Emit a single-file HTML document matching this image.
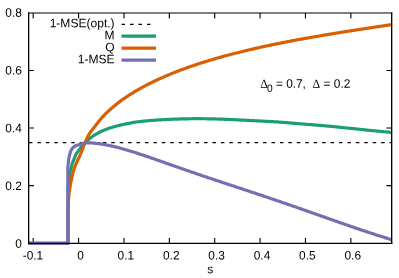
<!DOCTYPE html>
<html><head><meta charset="utf-8"><title>plot</title>
<style>
html,body{margin:0;padding:0;background:#fff;}
body{width:399px;height:278px;position:relative;overflow:hidden;font-family:"Liberation Sans",sans-serif;color:#000;}
</style></head><body>
<svg width="399" height="278" viewBox="0 0 399 278" style="position:absolute;left:0;top:0;will-change:transform"><rect width="399" height="278" fill="#fff"/><path d="M33.19,243.3 V238 M33.19,13.03 v5.4 M78.57,243.3 V238 M78.57,13.03 v5.4 M123.95,243.3 V238 M123.95,13.03 v5.4 M169.33,243.3 V238 M169.33,13.03 v5.4 M214.71,243.3 V238 M214.71,13.03 v5.4 M260.09,243.3 V238 M260.09,13.03 v5.4 M305.47,243.3 V238 M305.47,13.03 v5.4 M350.85,243.3 V238 M350.85,13.03 v5.4 M28.65,185.60 H33.9 M391.68,185.60 H386.3 M28.65,128.05 H33.9 M391.68,128.05 H386.3 M28.65,70.50 H33.9 M391.68,70.50 H386.3" stroke="#000" stroke-width="1.1" fill="none"/><path d="M28.9,142.60 H102.5" stroke="#000" stroke-width="1.1" stroke-dasharray="3.5 4.97" fill="none"/><path d="M102.8,142.60 H391.68" stroke="#000" stroke-width="1.1" stroke-dasharray="3.5 4.935" fill="none"/><path d="M28.65,243.30 L68.10,243.30 L68.10,186.00 L68.15,185.10 L68.21,184.20 L68.28,183.30 L68.36,182.40 L68.45,181.51 L68.57,180.61 L68.70,179.72 L68.85,178.83 L69.00,177.94 L69.16,177.05 L69.32,176.16 L69.48,175.28 L69.64,174.39 L69.80,173.50 L69.97,172.61 L70.15,171.73 L70.33,170.85 L70.53,169.97 L70.74,169.09 L70.95,168.21 L71.18,167.34 L71.41,166.47 L71.66,165.60 L71.91,164.73 L72.18,163.87 L72.46,163.01 L72.76,162.17 L73.09,161.33 L73.45,160.50 L73.81,159.67 L74.16,158.84 L74.49,158.00 L74.80,157.14 L75.13,156.30 L75.47,155.47 L75.87,154.68 L76.30,153.90 L76.77,153.14 L77.27,152.39 L77.79,151.65 L78.33,150.91 L78.89,150.19 L79.45,149.47 L80.01,148.76 L80.56,148.05 L81.12,147.34 L81.68,146.63 L82.25,145.92 L82.83,145.23 L83.41,144.54 L84.01,143.86 L84.62,143.20 L85.25,142.56 L85.88,141.93 L86.54,141.31 L87.20,140.70 L87.88,140.10 L88.57,139.51 L89.27,138.94 L89.98,138.37 L90.69,137.82 L91.40,137.27 L92.13,136.74 L92.87,136.22 L93.61,135.71 L94.37,135.21 L95.13,134.73 L95.90,134.26 L96.67,133.80 L97.45,133.35 L98.25,132.91 L99.04,132.49 L99.85,132.08 L100.65,131.68 L101.47,131.30 L102.29,130.93 L103.12,130.57 L103.96,130.22 L104.79,129.88 L105.63,129.55 L106.47,129.23 L107.32,128.92 L108.17,128.61 L109.02,128.32 L109.87,128.03 L110.73,127.74 L111.59,127.47 L112.45,127.20 L113.31,126.94 L114.18,126.68 L115.04,126.44 L115.91,126.20 L116.79,125.97 L117.66,125.75 L118.54,125.53 L119.41,125.32 L120.29,125.12 L121.17,124.92 L122.05,124.73 L122.93,124.54 L123.82,124.36 L124.70,124.18 L125.59,124.00 L126.47,123.83 L127.36,123.65 L128.24,123.48 L129.13,123.31 L130.01,123.14 L130.90,122.96 L131.78,122.78 L132.67,122.61 L133.55,122.44 L134.44,122.29 L135.33,122.15 L136.22,122.03 L137.12,121.93 L138.02,121.82 L138.91,121.72 L139.81,121.62 L140.71,121.52 L141.60,121.41 L142.50,121.30 L143.39,121.20 L144.29,121.10 L145.19,121.01 L146.08,120.93 L146.98,120.84 L147.88,120.76 L148.78,120.68 L149.68,120.61 L150.58,120.53 L151.47,120.46 L152.37,120.39 L153.27,120.32 L154.17,120.26 L155.07,120.20 L155.97,120.13 L156.87,120.07 L157.77,120.02 L158.67,119.96 L159.57,119.90 L160.47,119.85 L161.37,119.80 L162.27,119.75 L163.17,119.70 L164.07,119.65 L164.97,119.60 L165.87,119.56 L166.77,119.51 L167.68,119.47 L168.58,119.42 L169.48,119.38 L170.38,119.34 L171.28,119.30 L172.18,119.26 L173.08,119.22 L173.98,119.19 L174.88,119.15 L175.78,119.12 L176.69,119.09 L177.59,119.06 L178.49,119.03 L179.39,119.00 L180.29,118.97 L181.19,118.94 L182.09,118.92 L183.00,118.90 L183.90,118.87 L184.80,118.85 L185.70,118.84 L186.60,118.82 L187.50,118.80 L188.40,118.78 L189.31,118.76 L190.21,118.75 L191.11,118.73 L192.01,118.72 L192.91,118.71 L193.81,118.70 L194.72,118.70 L195.62,118.70 L196.52,118.70 L197.42,118.70 L198.32,118.71 L199.23,118.71 L200.13,118.72 L201.03,118.72 L201.93,118.73 L202.83,118.73 L203.73,118.74 L204.64,118.75 L205.54,118.75 L206.44,118.77 L207.34,118.78 L208.24,118.79 L209.14,118.81 L210.05,118.83 L210.95,118.85 L211.85,118.87 L212.75,118.89 L213.65,118.92 L214.55,118.94 L215.46,118.96 L216.36,118.99 L217.26,119.01 L218.16,119.04 L219.06,119.07 L219.96,119.11 L220.86,119.14 L221.76,119.17 L222.67,119.21 L223.57,119.24 L224.47,119.28 L225.37,119.31 L226.27,119.35 L227.17,119.39 L228.07,119.43 L228.97,119.47 L229.87,119.51 L230.77,119.55 L231.68,119.59 L232.58,119.63 L233.48,119.67 L234.38,119.72 L235.28,119.76 L236.18,119.80 L237.08,119.85 L237.98,119.89 L238.88,119.94 L239.78,119.98 L240.68,120.03 L241.58,120.07 L242.48,120.12 L243.38,120.16 L244.29,120.21 L245.19,120.26 L246.09,120.30 L246.99,120.35 L247.89,120.39 L248.79,120.44 L249.69,120.48 L250.59,120.53 L251.49,120.57 L252.39,120.62 L253.29,120.66 L254.19,120.71 L255.09,120.75 L255.99,120.79 L256.90,120.84 L257.80,120.88 L258.70,120.92 L259.60,120.97 L260.50,121.01 L261.40,121.05 L262.30,121.10 L263.20,121.14 L264.10,121.19 L265.00,121.24 L265.90,121.28 L266.80,121.33 L267.70,121.38 L268.60,121.43 L269.50,121.48 L270.40,121.53 L271.31,121.58 L272.21,121.63 L273.11,121.68 L274.01,121.74 L274.90,121.79 L275.80,121.85 L276.70,121.91 L277.60,121.97 L278.50,122.04 L279.40,122.10 L280.30,122.17 L281.20,122.24 L282.10,122.31 L283.00,122.38 L283.90,122.45 L284.80,122.52 L285.70,122.60 L286.59,122.67 L287.49,122.75 L288.39,122.82 L289.29,122.90 L290.19,122.98 L291.09,123.05 L291.99,123.13 L292.88,123.21 L293.78,123.28 L294.68,123.36 L295.58,123.44 L296.48,123.51 L297.38,123.59 L298.28,123.66 L299.18,123.73 L300.07,123.81 L300.97,123.88 L301.87,123.95 L302.77,124.02 L303.67,124.09 L304.57,124.16 L305.47,124.23 L306.37,124.30 L307.27,124.37 L308.17,124.44 L309.07,124.51 L309.96,124.58 L310.86,124.65 L311.76,124.72 L312.66,124.78 L313.56,124.85 L314.46,124.93 L315.36,125.00 L316.26,125.07 L317.16,125.14 L318.06,125.21 L318.95,125.29 L319.85,125.36 L320.75,125.43 L321.65,125.51 L322.55,125.59 L323.45,125.66 L324.35,125.74 L325.24,125.82 L326.14,125.90 L327.04,125.98 L327.94,126.07 L328.84,126.15 L329.73,126.24 L330.63,126.32 L331.53,126.41 L332.43,126.50 L333.32,126.59 L334.22,126.68 L335.12,126.77 L336.02,126.86 L336.91,126.95 L337.81,127.04 L338.71,127.13 L339.60,127.22 L340.50,127.32 L341.40,127.41 L342.29,127.50 L343.19,127.60 L344.09,127.69 L344.99,127.78 L345.88,127.88 L346.78,127.97 L347.68,128.06 L348.57,128.15 L349.47,128.25 L350.37,128.34 L351.27,128.43 L352.16,128.52 L353.06,128.62 L353.96,128.71 L354.85,128.80 L355.75,128.90 L356.65,129.00 L357.54,129.09 L358.44,129.19 L359.34,129.28 L360.23,129.38 L361.13,129.47 L362.03,129.57 L362.92,129.66 L363.82,129.76 L364.72,129.85 L365.61,129.95 L366.51,130.04 L367.41,130.14 L368.30,130.23 L369.20,130.32 L370.10,130.41 L371.00,130.50 L371.89,130.59 L372.79,130.68 L373.69,130.77 L374.59,130.86 L375.48,130.94 L376.38,131.03 L377.28,131.11 L378.18,131.20 L379.07,131.28 L379.97,131.36 L380.87,131.45 L381.77,131.53 L382.67,131.61 L383.56,131.69 L384.46,131.77 L385.36,131.85 L386.26,131.93 L387.16,132.01 L388.06,132.09 L388.95,132.17 L389.85,132.25 L390.75,132.32 L391.65,132.40" stroke="#1b9e77" stroke-width="3.2" fill="none" stroke-linejoin="round"/><path d="M28.65,243.30 L68.05,243.30 L68.05,212.00 L68.05,210.96 L68.07,209.93 L68.09,208.90 L68.12,207.86 L68.15,206.83 L68.19,205.80 L68.24,204.77 L68.29,203.74 L68.35,202.71 L68.42,201.68 L68.48,200.65 L68.55,199.63 L68.63,198.60 L68.70,197.57 L68.78,196.54 L68.86,195.52 L68.94,194.49 L69.05,193.47 L69.18,192.45 L69.33,191.42 L69.48,190.40 L69.64,189.38 L69.80,188.36 L69.96,187.35 L70.13,186.33 L70.31,185.31 L70.49,184.30 L70.68,183.28 L70.87,182.27 L71.07,181.26 L71.27,180.25 L71.49,179.24 L71.71,178.23 L71.94,177.23 L72.17,176.22 L72.41,175.22 L72.65,174.22 L72.88,173.21 L73.12,172.20 L73.37,171.20 L73.64,170.21 L73.94,169.23 L74.28,168.26 L74.64,167.29 L75.02,166.33 L75.41,165.37 L75.82,164.42 L76.22,163.47 L76.63,162.52 L77.05,161.58 L77.49,160.65 L77.94,159.72 L78.40,158.80 L78.86,157.87 L79.31,156.94 L79.75,156.01 L80.17,155.07 L80.57,154.12 L80.96,153.17 L81.34,152.21 L81.71,151.24 L82.07,150.28 L82.43,149.31 L82.79,148.34 L83.15,147.37 L83.51,146.41 L83.88,145.44 L84.26,144.49 L84.65,143.53 L85.06,142.59 L85.48,141.65 L85.90,140.71 L86.33,139.76 L86.77,138.82 L87.22,137.89 L87.68,136.96 L88.15,136.04 L88.64,135.13 L89.14,134.24 L89.66,133.36 L90.21,132.50 L90.79,131.66 L91.40,130.83 L92.03,130.01 L92.67,129.20 L93.33,128.39 L93.98,127.59 L94.63,126.78 L95.27,125.97 L95.90,125.15 L96.52,124.33 L97.15,123.51 L97.78,122.70 L98.42,121.89 L99.07,121.09 L99.73,120.29 L100.39,119.50 L101.06,118.71 L101.73,117.92 L102.41,117.15 L103.10,116.38 L103.80,115.63 L104.51,114.88 L105.23,114.15 L105.96,113.43 L106.71,112.71 L107.46,112.01 L108.22,111.30 L108.98,110.61 L109.75,109.92 L110.53,109.23 L111.30,108.55 L112.08,107.88 L112.86,107.20 L113.64,106.53 L114.43,105.87 L115.22,105.21 L116.02,104.55 L116.82,103.90 L117.63,103.26 L118.44,102.62 L119.26,101.99 L120.08,101.37 L120.91,100.76 L121.74,100.15 L122.58,99.55 L123.42,98.96 L124.27,98.37 L125.12,97.79 L125.98,97.21 L126.84,96.64 L127.70,96.07 L128.56,95.51 L129.43,94.95 L130.30,94.40 L131.17,93.85 L132.05,93.30 L132.93,92.77 L133.81,92.23 L134.70,91.70 L135.58,91.18 L136.47,90.65 L137.36,90.14 L138.26,89.62 L139.15,89.11 L140.05,88.61 L140.95,88.11 L141.86,87.61 L142.76,87.12 L143.67,86.63 L144.58,86.14 L145.49,85.66 L146.41,85.18 L147.32,84.71 L148.24,84.24 L149.16,83.78 L150.09,83.32 L151.01,82.86 L151.93,82.40 L152.86,81.95 L153.79,81.50 L154.72,81.06 L155.65,80.62 L156.59,80.18 L157.52,79.74 L158.46,79.31 L159.40,78.88 L160.34,78.46 L161.28,78.04 L162.22,77.62 L163.16,77.20 L164.11,76.79 L165.05,76.38 L166.00,75.97 L166.95,75.56 L167.90,75.16 L168.85,74.76 L169.80,74.37 L170.76,73.98 L171.71,73.59 L172.67,73.20 L173.62,72.82 L174.58,72.44 L175.54,72.06 L176.50,71.68 L177.46,71.31 L178.43,70.94 L179.39,70.58 L180.36,70.21 L181.32,69.85 L182.29,69.49 L183.26,69.13 L184.22,68.78 L185.19,68.43 L186.16,68.07 L187.13,67.73 L188.10,67.38 L189.08,67.04 L190.05,66.70 L191.02,66.36 L192.00,66.02 L192.97,65.69 L193.95,65.36 L194.93,65.03 L195.91,64.70 L196.89,64.38 L197.87,64.05 L198.85,63.73 L199.83,63.42 L200.81,63.10 L201.79,62.78 L202.77,62.47 L203.76,62.16 L204.74,61.85 L205.72,61.54 L206.71,61.24 L207.69,60.93 L208.68,60.63 L209.67,60.33 L210.65,60.04 L211.64,59.74 L212.63,59.45 L213.62,59.16 L214.61,58.87 L215.60,58.58 L216.59,58.30 L217.58,58.02 L218.58,57.74 L219.57,57.46 L220.56,57.18 L221.56,56.90 L222.55,56.63 L223.54,56.35 L224.54,56.08 L225.53,55.81 L226.53,55.54 L227.52,55.27 L228.52,55.01 L229.52,54.74 L230.51,54.48 L231.51,54.22 L232.51,53.96 L233.51,53.70 L234.51,53.45 L235.51,53.19 L236.51,52.94 L237.51,52.69 L238.51,52.44 L239.51,52.19 L240.51,51.94 L241.51,51.70 L242.51,51.45 L243.51,51.21 L244.52,50.96 L245.52,50.72 L246.52,50.48 L247.53,50.24 L248.53,50.01 L249.53,49.77 L250.54,49.54 L251.54,49.30 L252.55,49.07 L253.55,48.84 L254.56,48.62 L255.56,48.39 L256.57,48.16 L257.58,47.94 L258.58,47.71 L259.59,47.49 L260.60,47.26 L261.60,47.04 L262.61,46.82 L263.62,46.60 L264.63,46.39 L265.63,46.17 L266.64,45.95 L267.65,45.74 L268.66,45.53 L269.67,45.32 L270.68,45.10 L271.69,44.89 L272.70,44.69 L273.71,44.48 L274.72,44.27 L275.73,44.06 L276.74,43.86 L277.75,43.65 L278.76,43.45 L279.77,43.25 L280.78,43.04 L281.79,42.84 L282.81,42.64 L283.82,42.44 L284.83,42.25 L285.84,42.05 L286.85,41.85 L287.87,41.66 L288.88,41.46 L289.89,41.27 L290.90,41.07 L291.92,40.88 L292.93,40.69 L293.94,40.50 L294.96,40.30 L295.97,40.12 L296.98,39.93 L298.00,39.74 L299.01,39.55 L300.03,39.37 L301.04,39.19 L302.06,39.00 L303.07,38.82 L304.09,38.63 L305.10,38.45 L306.12,38.27 L307.13,38.09 L308.15,37.90 L309.16,37.72 L310.18,37.54 L311.19,37.36 L312.21,37.18 L313.22,37.01 L314.24,36.83 L315.26,36.65 L316.27,36.48 L317.29,36.30 L318.30,36.13 L319.32,35.96 L320.34,35.78 L321.35,35.61 L322.37,35.44 L323.39,35.26 L324.40,35.09 L325.42,34.92 L326.44,34.75 L327.46,34.58 L328.47,34.41 L329.49,34.24 L330.51,34.08 L331.52,33.91 L332.54,33.74 L333.56,33.58 L334.58,33.41 L335.60,33.25 L336.61,33.08 L337.63,32.92 L338.65,32.75 L339.67,32.59 L340.69,32.42 L341.70,32.26 L342.72,32.09 L343.74,31.93 L344.76,31.77 L345.78,31.61 L346.80,31.45 L347.81,31.29 L348.83,31.13 L349.85,30.97 L350.87,30.81 L351.89,30.65 L352.91,30.49 L353.93,30.33 L354.95,30.17 L355.96,30.01 L356.98,29.85 L358.00,29.69 L359.02,29.53 L360.04,29.37 L361.06,29.22 L362.08,29.06 L363.10,28.90 L364.12,28.75 L365.14,28.59 L366.16,28.44 L367.18,28.29 L368.20,28.13 L369.21,27.98 L370.23,27.82 L371.25,27.67 L372.27,27.51 L373.29,27.36 L374.31,27.20 L375.33,27.05 L376.35,26.90 L377.37,26.74 L378.39,26.59 L379.41,26.44 L380.43,26.28 L381.45,26.13 L382.47,25.98 L383.49,25.83 L384.51,25.67 L385.53,25.52 L386.55,25.37 L387.57,25.22 L388.59,25.07 L389.61,24.91 L390.63,24.76 L391.65,24.61" stroke="#d95f02" stroke-width="3.2" fill="none" stroke-linejoin="round"/><path d="M28.65,243.30 L67.85,243.30 L67.85,166.00 L68.01,165.13 L68.16,164.25 L68.29,163.37 L68.39,162.49 L68.49,161.60 L68.58,160.72 L68.68,159.84 L68.81,158.96 L68.95,158.08 L69.12,157.21 L69.30,156.34 L69.49,155.47 L69.69,154.60 L69.91,153.74 L70.17,152.89 L70.45,152.03 L70.77,151.17 L71.12,150.34 L71.51,149.55 L71.95,148.83 L72.48,148.15 L73.12,147.50 L73.83,146.90 L74.57,146.37 L75.32,145.94 L76.10,145.57 L76.92,145.25 L77.78,144.96 L78.64,144.70 L79.51,144.44 L80.36,144.19 L81.22,143.93 L82.08,143.66 L82.94,143.42 L83.80,143.22 L84.68,143.08 L85.55,143.00 L86.44,142.94 L87.32,142.88 L88.22,142.84 L89.11,142.81 L90.00,142.80 L90.88,142.82 L91.77,142.88 L92.65,142.97 L93.54,143.07 L94.42,143.18 L95.30,143.30 L96.19,143.40 L97.07,143.50 L97.95,143.61 L98.83,143.72 L99.71,143.84 L100.59,143.96 L101.47,144.09 L102.35,144.22 L103.23,144.36 L104.11,144.50 L104.98,144.65 L105.86,144.80 L106.73,144.97 L107.60,145.14 L108.47,145.32 L109.34,145.50 L110.21,145.69 L111.08,145.88 L111.95,146.07 L112.82,146.26 L113.68,146.47 L114.54,146.67 L115.41,146.88 L116.27,147.10 L117.13,147.32 L117.99,147.54 L118.85,147.77 L119.71,147.99 L120.57,148.22 L121.43,148.46 L122.28,148.69 L123.14,148.93 L123.99,149.18 L124.85,149.42 L125.70,149.67 L126.55,149.92 L127.41,150.17 L128.26,150.43 L129.11,150.68 L129.96,150.94 L130.81,151.20 L131.66,151.47 L132.50,151.74 L133.35,152.00 L134.20,152.27 L135.04,152.54 L135.89,152.81 L136.74,153.09 L137.58,153.36 L138.43,153.63 L139.27,153.91 L140.12,154.19 L140.96,154.47 L141.80,154.75 L142.65,155.03 L143.49,155.31 L144.33,155.59 L145.17,155.88 L146.01,156.16 L146.85,156.45 L147.70,156.74 L148.54,157.02 L149.38,157.31 L150.22,157.60 L151.06,157.89 L151.90,158.18 L152.74,158.47 L153.58,158.76 L154.42,159.06 L155.25,159.35 L156.09,159.64 L156.93,159.93 L157.77,160.22 L158.61,160.52 L159.45,160.81 L160.29,161.10 L161.13,161.39 L161.97,161.69 L162.80,161.98 L163.64,162.28 L164.48,162.57 L165.32,162.87 L166.16,163.16 L167.00,163.46 L167.83,163.75 L168.67,164.05 L169.51,164.34 L170.35,164.63 L171.19,164.93 L172.03,165.22 L172.87,165.51 L173.70,165.81 L174.54,166.10 L175.38,166.39 L176.22,166.69 L177.06,166.98 L177.90,167.27 L178.74,167.57 L179.58,167.86 L180.42,168.15 L181.25,168.45 L182.09,168.74 L182.93,169.03 L183.77,169.32 L184.61,169.61 L185.45,169.90 L186.29,170.19 L187.13,170.48 L187.97,170.77 L188.81,171.06 L189.65,171.35 L190.49,171.64 L191.33,171.93 L192.17,172.22 L193.01,172.51 L193.85,172.79 L194.69,173.08 L195.53,173.37 L196.38,173.66 L197.22,173.94 L198.06,174.23 L198.90,174.52 L199.74,174.80 L200.58,175.09 L201.42,175.37 L202.26,175.66 L203.11,175.95 L203.95,176.23 L204.79,176.52 L205.63,176.80 L206.47,177.08 L207.31,177.37 L208.16,177.65 L209.00,177.94 L209.84,178.22 L210.68,178.50 L211.53,178.78 L212.37,179.07 L213.21,179.35 L214.05,179.63 L214.90,179.91 L215.74,180.19 L216.58,180.47 L217.43,180.76 L218.27,181.04 L219.11,181.32 L219.95,181.60 L220.80,181.88 L221.64,182.16 L222.48,182.44 L223.33,182.72 L224.17,183.00 L225.01,183.28 L225.86,183.56 L226.70,183.84 L227.55,184.12 L228.39,184.39 L229.23,184.67 L230.08,184.95 L230.92,185.23 L231.76,185.51 L232.61,185.79 L233.45,186.07 L234.29,186.35 L235.14,186.63 L235.98,186.90 L236.83,187.18 L237.67,187.46 L238.51,187.74 L239.36,188.02 L240.20,188.30 L241.04,188.58 L241.89,188.85 L242.73,189.13 L243.58,189.41 L244.42,189.69 L245.26,189.97 L246.11,190.25 L246.95,190.53 L247.79,190.81 L248.64,191.09 L249.48,191.37 L250.32,191.65 L251.17,191.93 L252.01,192.21 L252.85,192.49 L253.70,192.77 L254.54,193.05 L255.38,193.33 L256.22,193.61 L257.07,193.90 L257.91,194.18 L258.75,194.46 L259.60,194.74 L260.44,195.02 L261.28,195.31 L262.12,195.59 L262.96,195.87 L263.81,196.16 L264.65,196.44 L265.49,196.72 L266.33,197.00 L267.18,197.29 L268.02,197.57 L268.86,197.85 L269.70,198.14 L270.55,198.42 L271.39,198.70 L272.23,198.99 L273.07,199.27 L273.91,199.56 L274.75,199.84 L275.60,200.13 L276.44,200.41 L277.28,200.70 L278.12,200.99 L278.96,201.27 L279.80,201.56 L280.64,201.85 L281.48,202.14 L282.32,202.43 L283.16,202.71 L284.00,203.00 L284.84,203.29 L285.68,203.58 L286.52,203.87 L287.36,204.16 L288.20,204.45 L289.04,204.74 L289.88,205.03 L290.72,205.32 L291.56,205.61 L292.40,205.90 L293.24,206.19 L294.08,206.48 L294.92,206.78 L295.76,207.07 L296.60,207.36 L297.44,207.65 L298.28,207.94 L299.12,208.24 L299.96,208.53 L300.79,208.83 L301.63,209.12 L302.47,209.41 L303.31,209.71 L304.15,210.00 L304.99,210.30 L305.83,210.59 L306.66,210.88 L307.50,211.18 L308.34,211.47 L309.18,211.77 L310.02,212.06 L310.86,212.36 L311.69,212.65 L312.53,212.95 L313.37,213.24 L314.21,213.54 L315.05,213.83 L315.88,214.13 L316.72,214.42 L317.56,214.72 L318.40,215.02 L319.24,215.31 L320.07,215.61 L320.91,215.90 L321.75,216.20 L322.59,216.49 L323.43,216.79 L324.26,217.08 L325.10,217.38 L325.94,217.67 L326.78,217.97 L327.62,218.26 L328.45,218.56 L329.29,218.86 L330.13,219.15 L330.97,219.45 L331.81,219.74 L332.64,220.04 L333.48,220.33 L334.32,220.63 L335.16,220.92 L336.00,221.22 L336.84,221.51 L337.67,221.81 L338.51,222.10 L339.35,222.40 L340.19,222.69 L341.03,222.98 L341.87,223.28 L342.71,223.57 L343.54,223.86 L344.38,224.15 L345.22,224.44 L346.06,224.74 L346.90,225.03 L347.74,225.32 L348.58,225.61 L349.42,225.89 L350.26,226.18 L351.10,226.47 L351.94,226.76 L352.78,227.05 L353.63,227.34 L354.47,227.63 L355.31,227.91 L356.15,228.20 L356.99,228.49 L357.83,228.77 L358.67,229.06 L359.51,229.35 L360.35,229.63 L361.20,229.91 L362.04,230.20 L362.88,230.48 L363.72,230.76 L364.57,231.04 L365.41,231.32 L366.25,231.60 L367.10,231.88 L367.94,232.16 L368.78,232.44 L369.63,232.72 L370.47,233.00 L371.32,233.27 L372.16,233.55 L373.00,233.83 L373.85,234.10 L374.69,234.38 L375.54,234.65 L376.39,234.92 L377.23,235.20 L378.08,235.47 L378.92,235.74 L379.77,236.01 L380.62,236.28 L381.47,236.54 L382.31,236.81 L383.16,237.08 L384.01,237.34 L384.86,237.61 L385.70,237.87 L386.55,238.14 L387.40,238.40 L388.25,238.66 L389.10,238.92 L389.95,239.18 L390.80,239.44 L391.65,239.70" stroke="#7570b3" stroke-width="3.2" fill="none" stroke-linejoin="round"/><path d="M121.5,24.4 H155" stroke="#000" stroke-width="1.1" stroke-dasharray="3.5 5" fill="none"/><path d="M121.5,36.2 H156" stroke="#1b9e77" stroke-width="3.2"/><path d="M121.5,48.2 H156" stroke="#d95f02" stroke-width="3.2"/><path d="M121.5,60.2 H156" stroke="#7570b3" stroke-width="3.2"/><path d="M28.65,12.53 V243.95" stroke="#000" stroke-width="1.3"/><path d="M391.68,12.53 V243.95" stroke="#000" stroke-width="1.35"/><path d="M28,13.03 H392.35" stroke="#000" stroke-width="1.1"/><path d="M28,243.33 H392.35" stroke="#000" stroke-width="1.25"/><g style="font-family:'Liberation Sans',sans-serif;text-rendering:geometricPrecision" fill="#000"><text text-anchor="end" transform="translate(21.85 247.65) rotate(0.04) scale(0.975 1)" style="font-size:12.2px;">0</text><text text-anchor="end" transform="translate(21.85 189.95) rotate(0.04) scale(0.975 1)" style="font-size:12.2px;">0.2</text><text text-anchor="end" transform="translate(21.85 132.25) rotate(0.04) scale(0.975 1)" style="font-size:12.2px;">0.4</text><text text-anchor="end" transform="translate(21.85 74.55) rotate(0.04) scale(0.975 1)" style="font-size:12.2px;">0.6</text><text text-anchor="end" transform="translate(21.85 16.85) rotate(0.04) scale(0.975 1)" style="font-size:12.2px;">0.8</text><text text-anchor="middle" transform="translate(32.99 259.55) rotate(0.04) scale(0.975 1)" style="font-size:12.2px;">-0.1</text><text text-anchor="middle" transform="translate(80.47 259.55) rotate(0.04) scale(0.975 1)" style="font-size:12.2px;">0</text><text text-anchor="middle" transform="translate(125.85 259.55) rotate(0.04) scale(0.975 1)" style="font-size:12.2px;">0.1</text><text text-anchor="middle" transform="translate(171.23 259.55) rotate(0.04) scale(0.975 1)" style="font-size:12.2px;">0.2</text><text text-anchor="middle" transform="translate(216.61 259.55) rotate(0.04) scale(0.975 1)" style="font-size:12.2px;">0.3</text><text text-anchor="middle" transform="translate(261.99 259.55) rotate(0.04) scale(0.975 1)" style="font-size:12.2px;">0.4</text><text text-anchor="middle" transform="translate(307.37 259.55) rotate(0.04) scale(0.975 1)" style="font-size:12.2px;">0.5</text><text text-anchor="middle" transform="translate(352.75 259.55) rotate(0.04) scale(0.975 1)" style="font-size:12.2px;">0.6</text><text text-anchor="middle" transform="translate(210.30 273.30) rotate(0.04) scale(0.975 1)" style="font-size:12.3px;">s</text><text text-anchor="end" transform="translate(114.60 27.30) rotate(0.04) scale(0.98 1)" style="font-size:12.3px;">1-MSE(opt.)</text><text text-anchor="end" transform="translate(114.60 39.30) rotate(0.04) scale(0.98 1)" style="font-size:12.3px;">M</text><text text-anchor="end" transform="translate(114.60 51.30) rotate(0.04) scale(0.98 1)" style="font-size:12.3px;">Q</text><text text-anchor="end" transform="translate(114.60 63.30) rotate(0.04) scale(0.98 1)" style="font-size:12.3px;">1-MSE</text><text text-anchor="start" transform="translate(260.20 87.75) rotate(0.04) scale(0.975 1)" style="font-size:12.3px;font-family:'Liberation Serif',serif;">&#916;</text><text text-anchor="start" transform="translate(267.10 91.75) rotate(0.04) scale(0.975 1)" style="font-size:10.5px;">0</text><text text-anchor="start" transform="translate(275.90 87.85) rotate(0.04) scale(0.965 1)" style="font-size:12.3px;">= 0.7,</text><text text-anchor="start" transform="translate(312.50 87.75) rotate(0.04) scale(0.975 1)" style="font-size:12.3px;font-family:'Liberation Serif',serif;">&#916;</text><text text-anchor="start" transform="translate(323.55 87.85) rotate(0.04) scale(0.97 1)" style="font-size:12.3px;">= 0.2</text></g></svg>
</body></html>
